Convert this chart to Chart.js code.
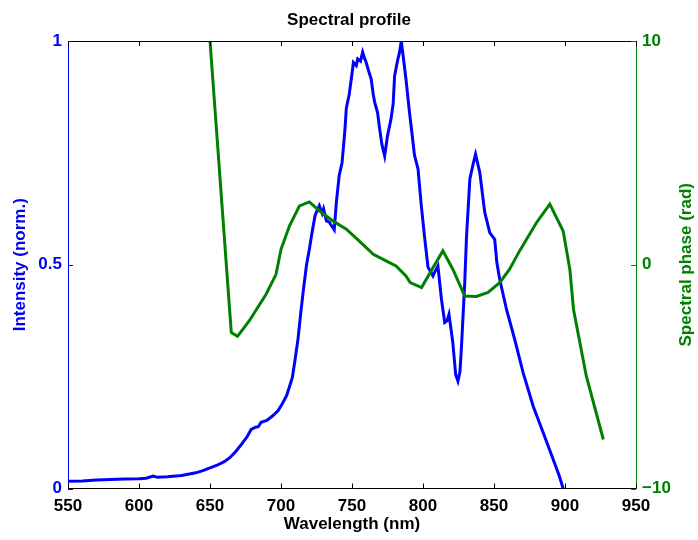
<!DOCTYPE html>
<html>
<head>
<meta charset="utf-8">
<script src="https://cdn.jsdelivr.net/npm/chart.js@4"></script>
<style>
  body { margin: 0; background: #fff; }
  #wrap { width: 698px; height: 540px; }
</style>
</head>
<body>
<div id="wrap"><canvas id="spectrum" width="698" height="540"></canvas></div>
<script>
// wavelength (nm) / normalised intensity
const intensityWl = [550, 560, 570, 580, 590, 600, 605, 610, 613, 620, 630, 640, 645, 650, 655, 660, 664, 668, 672, 676, 679, 682, 684, 686, 690, 694, 698, 701, 704, 706, 708, 710, 712, 714, 716, 718, 720, 722, 724, 726, 727, 729, 730, 732, 734, 736, 737.5, 739, 741, 743, 745, 746, 748, 749.5, 751, 753, 754, 756, 757.5, 759, 760, 762, 763.5, 765, 766, 768, 769.5, 771, 773, 775, 777.5, 779, 780, 782, 783.5, 784.7, 786, 788, 790.5, 792, 794, 796.5, 798.8, 801, 803.5, 807, 808, 810.5, 813, 815.3, 817, 818.3, 821, 823, 824.6, 826, 827, 829.4, 830.6, 833, 835, 837, 840, 843.5, 847, 850.5, 852, 854, 858.8, 864.6, 870.5, 877.6, 884.6, 891.7, 896, 898.7];
const intensity = [0.016, 0.017, 0.019, 0.020, 0.021, 0.022, 0.023, 0.028, 0.025, 0.026, 0.029, 0.035, 0.040, 0.046, 0.052, 0.060, 0.069, 0.082, 0.098, 0.115, 0.132, 0.137, 0.138, 0.148, 0.152, 0.162, 0.174, 0.190, 0.208, 0.228, 0.248, 0.290, 0.335, 0.395, 0.450, 0.500, 0.535, 0.575, 0.610, 0.625, 0.632, 0.615, 0.625, 0.598, 0.595, 0.585, 0.578, 0.640, 0.700, 0.728, 0.800, 0.850, 0.880, 0.915, 0.952, 0.945, 0.960, 0.955, 0.975, 0.960, 0.952, 0.930, 0.915, 0.880, 0.863, 0.840, 0.803, 0.770, 0.743, 0.788, 0.826, 0.860, 0.922, 0.955, 0.975, 1.0, 0.967, 0.915, 0.840, 0.800, 0.745, 0.714, 0.632, 0.565, 0.495, 0.475, 0.482, 0.497, 0.423, 0.371, 0.375, 0.389, 0.326, 0.255, 0.240, 0.260, 0.311, 0.460, 0.560, 0.691, 0.721, 0.747, 0.706, 0.617, 0.572, 0.557, 0.505, 0.468, 0.400, 0.333, 0.259, 0.184, 0.125, 0.065, 0.028, 0.0];

// wavelength (nm) / spectral phase (rad)
const phaseWl = [650, 665, 669.4, 677.7, 689.5, 696.5, 700, 706, 713, 720, 727, 736.5, 746, 755, 765, 774, 781, 788, 791, 799, 807, 814, 821, 829.4, 837.6, 845.8, 854, 861, 868, 880, 889.3, 898.7, 903.4, 906, 915, 927];
const phase = [10, -3.03, -3.2, -2.5, -1.32, -0.43, 0.69, 1.74, 2.63, 2.81, 2.41, 1.96, 1.59, 1.07, 0.47, 0.17, -0.05, -0.5, -0.8, -1.02, -0.13, 0.62, -0.2, -1.4, -1.42, -1.24, -0.8, -0.2, 0.62, 1.89, 2.71, 1.51, -0.2, -2.0, -4.97, -7.81];

const xTicks = [550, 600, 650, 700, 750, 800, 850, 900, 950];
const intensityTicks = [0, 0.5, 1];
const phaseTicks = [-10, 0, 10];

const BLUE = '#0000ff';
const GREEN = '#008000';
const FONT = '"Liberation Sans", Arial, Helvetica, sans-serif';

Chart.defaults.font.family = FONT;
Chart.defaults.font.weight = 'bold';
Chart.defaults.font.size = 17;

// MATLAB style: tick marks point into the plot, plus a top border
// and a right-hand axis label that reads bottom to top
const innerTicks = {
  id: 'innerTicks',
  afterDraw(chart) {
    const { ctx, chartArea: a, scales } = chart;
    const len = 5;
    ctx.save();
    ctx.lineWidth = 1;
    ctx.strokeStyle = '#000';
    ctx.beginPath();
    ctx.moveTo(a.left, a.top + 0.5);
    ctx.lineTo(a.right, a.top + 0.5);
    scales.x.ticks.forEach(t => {
      const px = Math.round(scales.x.getPixelForValue(t.value)) + 0.5;
      ctx.moveTo(px, a.bottom); ctx.lineTo(px, a.bottom - len);
      ctx.moveTo(px, a.top); ctx.lineTo(px, a.top + len);
    });
    ctx.stroke();
    ctx.strokeStyle = BLUE;
    ctx.beginPath();
    scales.y.ticks.forEach(t => {
      const py = Math.round(scales.y.getPixelForValue(t.value)) + 0.5;
      ctx.moveTo(a.left, py); ctx.lineTo(a.left + len, py);
    });
    ctx.stroke();
    ctx.strokeStyle = GREEN;
    ctx.beginPath();
    scales.y1.ticks.forEach(t => {
      const py = Math.round(scales.y1.getPixelForValue(t.value)) + 0.5;
      ctx.moveTo(a.right, py); ctx.lineTo(a.right - len, py);
    });
    ctx.stroke();

    ctx.translate(scales.y1.right - 11.5, (a.top + a.bottom) / 2);
    ctx.rotate(-Math.PI / 2);
    ctx.fillStyle = GREEN;
    ctx.font = 'bold 17px ' + FONT;
    ctx.textAlign = 'center';
    ctx.textBaseline = 'middle';
    ctx.fillText('Spectral phase (rad)', 0, 0);
    ctx.restore();
  }
};

new Chart(document.getElementById('spectrum'), {
  type: 'line',
  data: {
    datasets: [
      {
        label: 'Intensity',
        data: intensityWl.map((w, i) => ({ x: w, y: intensity[i] })),
        yAxisID: 'y',
        borderColor: BLUE,
        borderWidth: 3,
        pointRadius: 0,
        tension: 0,
        order: 1
      },
      {
        label: 'Phase',
        data: phaseWl.map((w, i) => ({ x: w, y: phase[i] })),
        yAxisID: 'y1',
        borderColor: GREEN,
        borderWidth: 3,
        pointRadius: 0,
        tension: 0,
        order: 0
      }
    ]
  },
  options: {
    responsive: false,
    animation: false,
    devicePixelRatio: 1,
    layout: { padding: 0 },
    plugins: {
      legend: { display: false },
      tooltip: { enabled: false },
      title: {
        display: true,
        text: 'Spectral profile',
        color: '#000',
        font: { size: 17, weight: 'bold' },
        padding: { top: 10, bottom: 10.6 }
      }
    },
    scales: {
      x: {
        type: 'linear',
        min: 550,
        max: 950,
        afterBuildTicks: s => { s.ticks = xTicks.map(v => ({ value: v })); },
        afterFit: s => { s.height = 51.5; },
        grid: { display: false, drawTicks: false },
        border: { display: true, color: '#000', width: 1 },
        ticks: { color: '#000', padding: 8, maxRotation: 0 },
        title: {
          display: true,
          text: 'Wavelength (nm)',
          color: '#000',
          padding: { top: 0, bottom: 5 }
        }
      },
      y: {
        position: 'left',
        min: 0,
        max: 1,
        afterBuildTicks: s => { s.ticks = intensityTicks.map(v => ({ value: v })); },
        afterFit: s => { s.width = 68; },
        grid: { display: false, drawTicks: false },
        border: { display: true, color: BLUE, width: 1 },
        ticks: { color: BLUE, padding: 6, callback: v => String(v) },
        title: {
          display: true,
          text: 'Intensity (norm.)',
          color: BLUE,
          padding: { top: 10, bottom: 0 }
        }
      },
      y1: {
        position: 'right',
        min: -10,
        max: 10,
        afterBuildTicks: s => { s.ticks = phaseTicks.map(v => ({ value: v })); },
        afterFit: s => { s.width = 62; },
        grid: { display: false, drawTicks: false },
        border: { display: true, color: GREEN, width: 1 },
        ticks: { color: GREEN, padding: 6, callback: v => String(v).replace('-', '\u2212') },
        title: { display: false }
      }
    }
  },
  plugins: [innerTicks]
});
</script>
</body>
</html>
